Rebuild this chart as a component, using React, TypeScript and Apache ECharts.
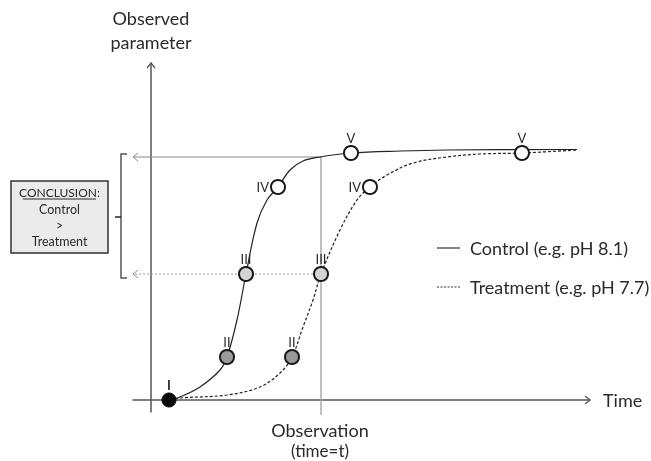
import React, { useEffect, useRef } from "react";
import * as echarts from "echarts";

// Curves (time units, parameter units)
const controlCurve: number[][] = [
  [1.9, 0], [2.9, 0.3], [4.9, 1.3], [6.9, 3.0], [7.6, 4.3], [8.6, 8.0], [9.5, 12.6],
  [10.6, 17.7], [11.6, 20.0], [12.7, 21.3], [13.9, 23.0], [15.2, 23.9], [16.9, 24.3],
  [20.0, 24.7], [24.9, 24.9], [29.6, 25.0], [42.6, 25.05],
];
const treatmentCurve: number[][] = [
  [1.9, 0], [2.9, 0.2], [7.6, 0.5], [10.9, 1.3], [12.9, 2.7], [14.1, 4.3], [15.2, 7.3],
  [16.2, 10.0], [17.0, 12.6], [18.9, 17.0], [20.6, 20.0], [21.9, 21.3], [23.6, 22.5],
  [26.2, 23.7], [29.6, 24.3], [32.9, 24.6], [37.1, 24.7], [42.6, 25.0],
];
const markerLabels = ["II", "III", "IV", "V"];
const markerFills = ["#9a9a9a", "#d4d4d4", "#ffffff", "#ffffff"];
const controlMarkers: number[][] = [[7.6, 4.3], [9.5, 12.6], [12.7, 21.3], [20.0, 24.7]];
const treatmentMarkers: number[][] = [[14.1, 4.3], [17.0, 12.6], [21.9, 21.3], [37.1, 24.7]];
const startPoint: number[] = [1.8, 0];
const observationTime = 17.0;
const controlAtObservation = 24.3;
const treatmentAtObservation = 12.6;
const legendNames = ["Control (e.g. pH 8.1)", "Treatment (e.g. pH 7.7)"];

const FONT = "Lato, 'Open Sans', sans-serif";
const TXT = "#2a2a2a";

export default function App() {
  const ref = useRef<HTMLDivElement>(null);
  useEffect(() => {
    if (!ref.current) return;
    const chart = echarts.init(ref.current, null, { renderer: "svg" });
    const xMin = -1.8;
    const markerData = (pts: number[][]) =>
      pts.map((p, i) => ({
        value: p,
        name: markerLabels[i],
        itemStyle: { color: markerFills[i] },
        label: {
          show: true,
          formatter: markerLabels[i],
          position: markerLabels[i] === "IV" ? "left" : "top",
          distance: 1,
        },
      }));
    const markerSeries = (name: string, pts: number[][]) => ({
      type: "scatter",
      name,
      data: markerData(pts),
      symbol: "circle",
      symbolSize: 14,
      itemStyle: { borderColor: "#1a1a1a", borderWidth: 2, opacity: 1 },
      label: { color: TXT, fontSize: 13, fontFamily: FONT },
      z: 10,
      clip: false,
    });
    const thin = (data: number[][], color: string, width: number, type: any = "solid", z = 3) => ({
      type: "line",
      data,
      symbol: "none",
      lineStyle: { color, width, type },
      clip: false,
      silent: true,
      z,
    });
    chart.setOption({
      animation: false,
      grid: { left: 133, right: 61, top: 63, bottom: 49 },
      xAxis: {
        type: "value",
        min: -1.8,
        max: 43.9,
        axisLine: { show: true, onZero: true, lineStyle: { color: "#555", width: 1.5 } },
        axisTick: { show: false },
        axisLabel: { show: false },
        splitLine: { show: false },
        name: "Time",
        nameLocation: "end",
        nameGap: 13,
        nameTextStyle: { color: TXT, fontSize: 18, fontFamily: FONT, align: "left", verticalAlign: "middle" },
      },
      yAxis: {
        type: "value",
        min: -1.2,
        max: 33.7,
        axisLine: { show: true, onZero: true, lineStyle: { color: "#555", width: 1.5 } },
        axisTick: { show: false },
        axisLabel: { show: false },
        splitLine: { show: false },
        name: "Observed\nparameter",
        nameLocation: "end",
        nameGap: 9,
        nameTextStyle: { color: TXT, fontSize: 18, fontFamily: FONT, align: "center", lineHeight: 24, verticalAlign: "bottom" },
      },
      series: [
        thin([[observationTime, controlAtObservation], [observationTime, -1.5]], "#aaaaaa", 1.5, "solid", 2),
        thin([[observationTime, controlAtObservation], [xMin, controlAtObservation]], "#8a8a8a", 1),
        thin([[xMin + 0.5, controlAtObservation + 0.4], [xMin, controlAtObservation], [xMin + 0.5, controlAtObservation - 0.4]], "#8a8a8a", 1),
        thin([[observationTime, treatmentAtObservation], [xMin, treatmentAtObservation]], "#9a9a9a", 1, [2, 2]),
        thin([[xMin + 0.5, treatmentAtObservation + 0.4], [xMin, treatmentAtObservation], [xMin + 0.5, treatmentAtObservation - 0.4]], "#8a8a8a", 1),
        thin([[-0.4, 33.2], [0, 33.7], [0.4, 33.2]], "#555", 1.3),
        thin([[43.4, 0.4], [43.9, 0], [43.4, -0.4]], "#555", 1.3),
        {
          type: "line",
          name: legendNames[0],
          data: controlCurve,
          smooth: 0.35,
          symbol: "none",
          lineStyle: { color: "#222", width: 1.2 },
          z: 5,
        },
        {
          type: "line",
          name: legendNames[1],
          data: treatmentCurve,
          smooth: 0.35,
          symbol: "none",
          lineStyle: { color: "#222", width: 1.2, type: [3, 2] },
          z: 5,
        },
        markerSeries("control markers", controlMarkers),
        markerSeries("treatment markers", treatmentMarkers),
        {
          type: "scatter",
          name: "start",
          data: [{ value: startPoint, label: { show: true, formatter: "I", position: "top", distance: 1 } }],
          symbolSize: 14,
          itemStyle: { color: "#0a0a0a", borderColor: "#0a0a0a", borderWidth: 1, opacity: 1 },
          label: { color: TXT, fontSize: 13, fontFamily: FONT, fontWeight: "bold" },
          z: 11,
          clip: false,
        },
      ],
      graphic: [
        {
          type: "rect",
          shape: { x: 11, y: 181, width: 97, height: 72 },
          style: { fill: "#ebebeb", stroke: "#333", lineWidth: 1.5 },
        },
        { type: "text", x: 59.5, y: 192, style: { text: "CONCLUSION:", fill: TXT, font: `12px ${FONT}`, align: "center", verticalAlign: "middle" } },
        { type: "line", shape: { x1: 23, y1: 199, x2: 96, y2: 199 }, style: { stroke: TXT, lineWidth: 1 } },
        { type: "text", x: 59.5, y: 209, style: { text: "Control", fill: TXT, font: `12.5px ${FONT}`, align: "center", verticalAlign: "middle" } },
        { type: "text", x: 59.5, y: 225, style: { text: ">", fill: TXT, font: `12.5px ${FONT}`, align: "center", verticalAlign: "middle" } },
        { type: "text", x: 59.5, y: 241, style: { text: "Treatment", fill: TXT, font: `12.5px ${FONT}`, align: "center", verticalAlign: "middle" } },
        {
          type: "polyline",
          shape: { points: [[127, 154], [121, 154], [121, 278], [127, 278]] },
          style: { stroke: "#555", lineWidth: 1.5, fill: "none" },
        },
        { type: "line", shape: { x1: 115, y1: 217, x2: 121, y2: 217 }, style: { stroke: "#222", lineWidth: 1.5 } },
        { type: "line", shape: { x1: 437, y1: 248, x2: 460, y2: 248 }, style: { stroke: "#333", lineWidth: 1.2 } },
        { type: "line", shape: { x1: 437, y1: 287, x2: 460, y2: 287 }, style: { stroke: "#333", lineWidth: 1, lineDash: [2, 1.5] } },
        { type: "text", x: 470, y: 248, style: { text: legendNames[0], fill: TXT, font: `18px ${FONT}`, verticalAlign: "middle" } },
        { type: "text", x: 470, y: 287, style: { text: legendNames[1], fill: TXT, font: `18px ${FONT}`, verticalAlign: "middle" } },
        { type: "text", x: 320, y: 430, style: { text: "Observation", fill: TXT, font: `18px ${FONT}`, align: "center", verticalAlign: "middle" } },
        { type: "text", x: 320, y: 450, style: { text: "(time=t)", fill: TXT, font: `17px ${FONT}`, align: "center", verticalAlign: "middle" } },
      ],
    });
    return () => chart.dispose();
  }, []);
  return <div ref={ref} style={{ position: "fixed", left: 0, top: 0, width: 651, height: 461 }} />;
}
